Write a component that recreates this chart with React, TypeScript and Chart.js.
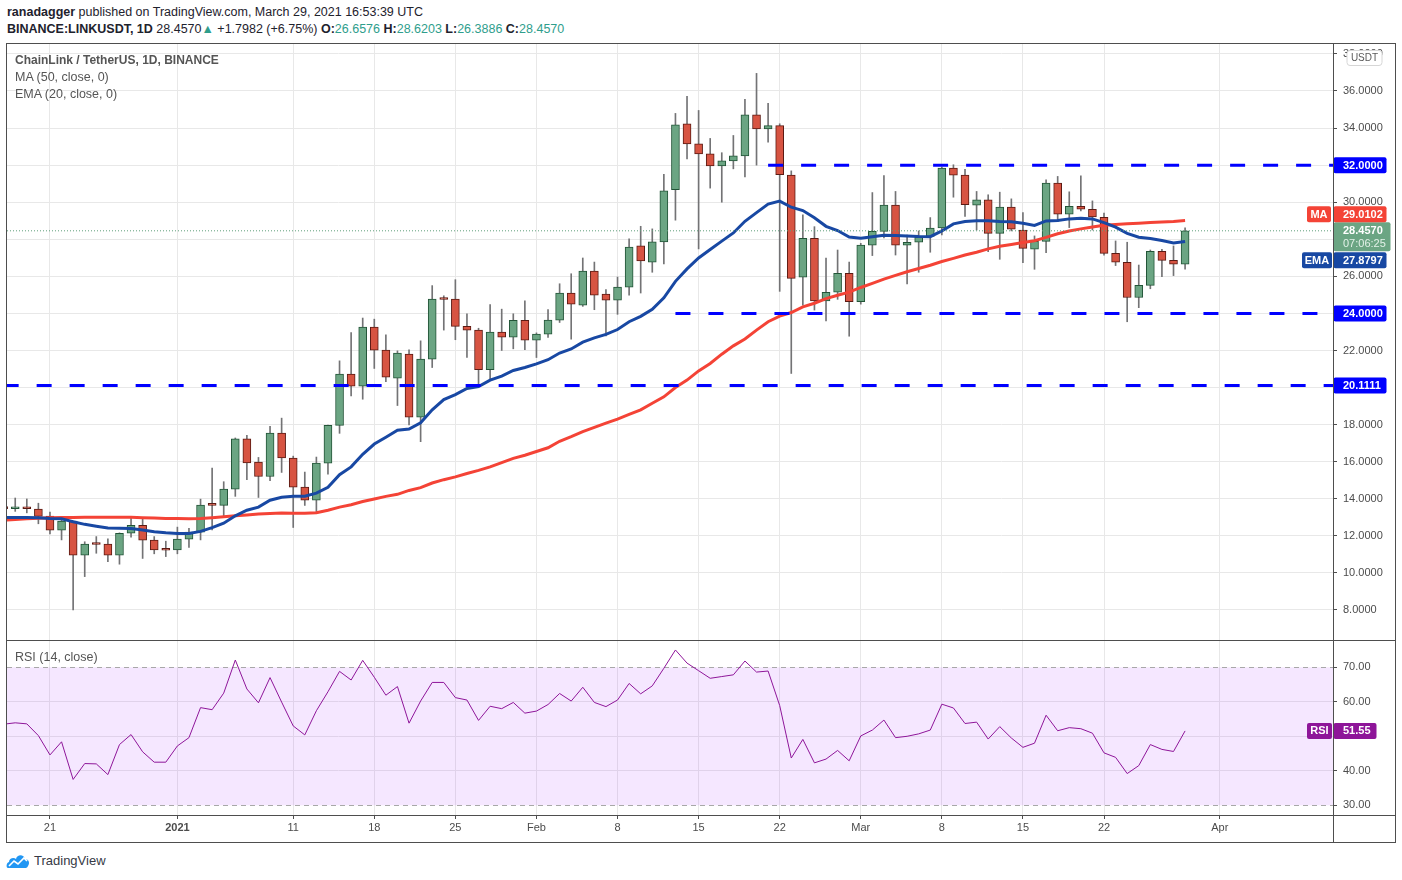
import React, { useEffect, useRef } from "react";
import { Chart, registerables } from "chart.js";

Chart.register(...registerables);

// Day 0 = 2020-12-17, one candle per day through 2021-03-29
const opens = [
  13.52, 13.46, 13.50, 13.44, 13.06, 12.31, 12.79, 10.95, 11.57, 11.55, 10.95, 12.14, 12.56, 11.77, 11.26,
  11.24, 11.82, 12.20, 13.68, 13.64, 14.52, 17.23, 15.98, 15.20, 17.55, 16.20, 14.63, 13.93, 15.92, 17.96,
  20.72, 20.07, 23.26, 22.02, 20.50, 21.80, 18.40, 21.53, 24.80, 24.77, 23.30, 23.10, 20.96, 22.99, 22.72,
  23.62, 22.56, 22.88, 23.64, 25.10, 24.45, 26.29, 25.04, 24.72, 25.42, 27.64, 26.77, 27.86, 30.67, 34.23,
  33.15, 32.61, 31.96, 32.23, 32.50, 34.72, 33.96, 34.13, 31.46, 25.95, 28.05, 24.68, 25.14, 26.16, 24.63,
  27.68, 28.43, 29.84, 27.68, 27.84, 28.16, 28.61, 31.84, 31.46, 29.84, 30.13, 28.32, 29.73, 28.49, 27.46,
  27.89, 31.03, 29.35, 29.78, 29.62, 29.19, 27.24, 26.76, 24.86, 25.51, 27.35, 26.86, 26.6576,
];
const highs = [
  13.80, 14.04, 13.99, 13.76, 13.28, 12.90, 12.80, 11.68, 11.96, 11.84, 12.16, 12.95, 12.95, 11.96, 11.71,
  12.47, 12.41, 13.98, 15.66, 14.92, 17.28, 17.42, 16.23, 17.91, 18.35, 16.30, 15.44, 16.25, 17.98, 21.44,
  22.97, 23.75, 23.69, 22.85, 21.98, 22.04, 22.52, 25.50, 24.95, 25.82, 23.98, 23.20, 24.47, 24.23, 23.98,
  24.68, 22.95, 24.20, 25.60, 26.14, 26.99, 26.77, 25.28, 25.96, 28.02, 28.70, 28.56, 31.50, 34.79, 35.71,
  34.95, 33.44, 32.67, 33.60, 35.55, 36.95, 35.33, 34.23, 31.69, 29.32, 28.68, 26.99, 27.42, 26.77, 27.78,
  30.52, 31.44, 30.58, 28.23, 28.45, 29.17, 31.90, 32.02, 31.78, 30.58, 30.40, 30.54, 30.18, 29.44, 28.18,
  31.21, 31.39, 30.56, 31.42, 30.07, 29.41, 27.91, 27.84, 26.61, 27.42, 27.46, 27.64, 28.6203,
];
const lows = [
  13.30, 13.32, 13.24, 12.65, 12.10, 11.78, 8.00, 9.80, 11.06, 10.61, 10.47, 11.93, 10.78, 11.03, 10.88,
  11.03, 11.37, 11.78, 12.32, 13.05, 14.13, 15.03, 14.07, 14.97, 15.42, 12.45, 13.64, 13.30, 15.33, 17.53,
  19.55, 19.37, 21.03, 20.32, 19.03, 17.98, 17.08, 21.08, 23.10, 22.58, 21.62, 20.14, 20.41, 22.00, 22.09,
  22.04, 21.62, 22.70, 23.51, 22.61, 24.38, 24.20, 22.79, 23.95, 24.99, 25.10, 26.22, 26.67, 29.03, 32.34,
  27.48, 30.76, 30.00, 31.80, 31.37, 32.00, 33.24, 25.19, 20.76, 24.45, 24.18, 23.60, 24.76, 22.77, 24.50,
  27.12, 28.07, 27.15, 25.59, 26.22, 27.30, 28.23, 30.27, 29.23, 28.50, 27.33, 26.92, 28.45, 26.74, 26.38,
  27.28, 28.95, 28.63, 29.53, 28.50, 27.14, 26.58, 23.55, 24.31, 25.33, 25.98, 26.04, 26.3886,
];
const closes = [
  13.47, 13.50, 13.46, 13.05, 12.31, 12.79, 10.95, 11.55, 11.53, 10.95, 12.14, 12.56, 11.77, 11.24, 11.22,
  11.82, 12.20, 13.66, 13.64, 14.52, 17.23, 15.93, 15.20, 17.55, 16.20, 14.63, 13.93, 15.92, 17.96, 20.72,
  20.07, 23.26, 22.02, 20.56, 21.86, 18.40, 21.53, 24.77, 24.75, 23.30, 23.10, 20.96, 22.99, 22.72, 23.62,
  22.56, 22.88, 23.64, 25.10, 24.50, 26.29, 24.99, 24.72, 25.42, 27.58, 26.83, 27.86, 30.61, 34.18, 33.15,
  32.61, 31.96, 32.23, 32.50, 34.72, 33.96, 34.13, 31.48, 25.89, 28.05, 24.68, 25.14, 26.16, 24.63, 27.68,
  28.43, 29.84, 27.68, 27.84, 28.11, 28.61, 31.84, 31.46, 29.87, 30.13, 28.32, 29.73, 28.54, 27.51, 27.89,
  31.03, 29.35, 29.78, 29.62, 29.21, 27.24, 26.76, 24.86, 25.51, 27.35, 26.86, 26.66, 28.457,
];
const ma50 = [
  12.84, 12.88, 12.92, 12.95, 12.97, 12.99, 12.99, 13.00, 13.00, 13.00, 13.00, 13.00, 12.98, 12.96, 12.94,
  12.93, 12.92, 12.94, 12.98, 13.03, 13.08, 13.13, 13.18, 13.21, 13.23, 13.22, 13.22, 13.25, 13.38, 13.55,
  13.68, 13.85, 13.99, 14.13, 14.24, 14.45, 14.60, 14.85, 15.03, 15.18, 15.36, 15.53, 15.72, 15.95, 16.18,
  16.35, 16.55, 16.75, 17.10, 17.35, 17.62, 17.85, 18.08, 18.30, 18.55, 18.80, 19.15, 19.50, 20.00, 20.40,
  20.90, 21.30, 21.80, 22.25, 22.62, 23.10, 23.55, 23.85, 24.05, 24.35, 24.55, 24.80, 24.98, 25.15, 25.40,
  25.62, 25.85, 26.05, 26.25, 26.42, 26.60, 26.80, 26.97, 27.15, 27.30, 27.48, 27.62, 27.72, 27.82, 27.92,
  28.10, 28.30, 28.45, 28.56, 28.66, 28.76, 28.80, 28.84, 28.87, 28.90, 28.93, 28.96, 29.0102,
];
const ema20 = [
  12.99, 12.99, 12.99, 12.98, 12.93, 12.92, 12.76, 12.62, 12.52, 12.42, 12.41, 12.40, 12.32, 12.22, 12.16,
  12.13, 12.13, 12.24, 12.44, 12.68, 13.08, 13.38, 13.55, 13.92, 14.08, 14.13, 14.14, 14.30, 14.62, 15.30,
  15.72, 16.40, 16.95, 17.32, 17.70, 17.76, 18.10, 18.80, 19.35, 19.62, 19.95, 20.05, 20.40, 20.62, 20.92,
  21.08, 21.28, 21.50, 21.86, 22.08, 22.45, 22.68, 22.87, 23.13, 23.55, 23.84, 24.22, 24.84, 25.73, 26.40,
  26.99, 27.45, 27.90, 28.34, 28.97, 29.44, 29.90, 30.06, 29.73, 29.55, 29.16, 28.70, 28.47, 28.12, 28.05,
  28.14, 28.22, 28.20, 28.18, 28.15, 28.14, 28.45, 28.83, 28.96, 29.00, 29.00, 28.96, 28.95, 28.86, 28.75,
  28.99, 29.01, 29.10, 29.14, 29.10, 28.90, 28.65, 28.32, 28.11, 28.04, 27.93, 27.80, 27.8797,
];
const rsi14 = [
  53.5, 53.9, 53.6, 50.2, 44.6, 48.4, 37.5, 42.1, 42.0, 38.9, 47.6, 50.5, 45.5, 42.5, 42.5,
  47.2, 49.6, 58.3, 57.7, 62.5, 72.1, 63.7, 59.7, 67.0, 59.9, 53.0, 50.4, 57.4, 62.9, 68.8,
  66.3, 72.0, 67.1, 61.9, 64.4, 53.8, 60.2, 65.6, 65.6, 61.2, 60.5, 54.6, 58.7, 58.0, 59.8,
  56.7, 57.3, 59.2, 62.4, 60.2, 64.2, 59.8, 58.6, 60.5, 65.3, 62.3, 64.6, 69.7, 75.0, 71.2,
  69.0, 66.8, 67.3, 67.8, 71.8, 68.6, 68.9, 58.9, 43.7, 49.1, 42.3, 43.4, 45.9, 42.9, 50.1,
  51.8, 54.7, 49.6, 50.0, 50.7, 51.8, 59.3, 58.2, 53.7, 54.1, 49.2, 52.8, 49.5, 46.8, 48.0,
  56.1, 51.6, 52.5, 52.2, 50.9, 45.2, 43.9, 39.2, 41.5, 47.6, 46.2, 45.6, 51.55,
];

const tickDays = [4, 15, 25, 32, 39, 46, 53, 60, 67, 74, 81, 88, 95, 105];
const tickLabels = ["21", "2021", "11", "18", "25", "Feb", "8", "15", "22", "Mar", "8", "15", "22", "Apr"];
const priceTicks = [8, 10, 12, 14, 16, 18, 20, 22, 24, 26, 28, 30, 32, 34, 36, 38];
const rsiTicks = [30, 40, 50, 60, 70];
const levelValues = [32, 24, 20.1111];
const levelStartDays = [66, 58, 0];
const rsiBand = [30, 70];
const lastPrice = 28.457;
const lastMA = 29.0102;
const lastEMA = 27.8797;
const lastRSI = 51.55;
const countdown = "07:06:25";

const FONT = '"Liberation Sans", Arial, sans-serif';
const X_MIN = 0.29;
const X_MAX = 114.77;
const GRID = "#e8e8e8";
const TEXT = "#4c4c4c";
const FRAME = "#4e4e4e";
const UP_FILL = "#6ba583";
const UP_LINE = "#225437";
const DN_FILL = "#d75442";
const DN_LINE = "#5b1a13";
const WICK = "#737375";
const MA_COLOR = "#f44336";
const EMA_COLOR = "#1848a3";
const LEVEL_COLOR = "#0000ff";
const RSI_COLOR = "#8e1599";
const AXIS_W = 62;

function xAxis(showLabels: boolean): any {
  return {
    type: "linear",
    min: X_MIN,
    max: X_MAX,
    offset: false,
    afterBuildTicks: (s: any) => {
      s.ticks = tickDays.map((v) => ({ value: v }));
    },
    grid: {
      color: GRID,
      offset: false,
      drawTicks: showLabels,
      tickLength: 4,
      tickColor: FRAME,
    },
    border: { display: false },
    ticks: {
      display: showLabels,
      autoSkip: false,
      maxRotation: 0,
      padding: 2,
      color: TEXT,
      font: (c: any) => ({
        family: FONT,
        size: 11,
        weight: tickLabels[c.index] === "2021" ? "bold" : "normal",
      }),
      callback: (_v: any, i: number) => tickLabels[i],
    },
    afterFit: (s: any) => {
      s.height = showLabels ? 27 : 0;
      s.paddingLeft = 0;
      s.paddingRight = 0;
    },
  };
}

function yAxisFit(s: any) {
  s.width = AXIS_W;
  s.paddingTop = 0;
  s.paddingBottom = 0;
}

function roundBox(ctx: CanvasRenderingContext2D, x: number, y: number, w: number, h: number, r: number, fill: string) {
  ctx.fillStyle = fill;
  ctx.beginPath();
  (ctx as any).roundRect(x, y, w, h, r);
  ctx.fill();
}

function label(ctx: CanvasRenderingContext2D, s: string, x: number, y: number, color: string, align: CanvasTextAlign = "left", bold = true) {
  ctx.font = `${bold ? "bold " : ""}11px ${FONT}`;
  ctx.fillStyle = color;
  ctx.textAlign = align;
  ctx.textBaseline = "middle";
  ctx.fillText(s, x, y);
}

const priceLabelPlugin = {
  id: "priceLabels",
  afterDraw(chart: any) {
    const { ctx, chartArea: a } = chart;
    const y = chart.scales.y;
    const x0 = a.right;
    ctx.save();
    levelValues.forEach((v) => {
      const yc = y.getPixelForValue(v);
      roundBox(ctx, x0 + 0.5, yc - 8, 53, 16, 2, LEVEL_COLOR);
      label(ctx, v.toFixed(4), x0 + 10, yc + 0.5, "#ffffff");
    });
    const yp = y.getPixelForValue(lastPrice);
    const pTop = yp - 8.5;
    const pH = 29;
    roundBox(ctx, x0 + 0.5, pTop, 57, pH, 2, UP_FILL);
    label(ctx, lastPrice.toFixed(4), x0 + 10, yp + 0.5, "#ffffff");
    label(ctx, countdown, x0 + 10, yp + 13.5, "#e3f1e8", "left", false);

    const ym = y.getPixelForValue(lastMA);
    const mTop = Math.min(ym - 8, pTop - 16);
    roundBox(ctx, x0 + 0.5, mTop, 53, 16, 2, MA_COLOR);
    label(ctx, lastMA.toFixed(4), x0 + 10, mTop + 8.5, "#ffffff");
    roundBox(ctx, x0 - 26, mTop, 24, 16, 2, MA_COLOR);
    label(ctx, "MA", x0 - 14, mTop + 8.5, "#ffffff", "center");

    const ye = y.getPixelForValue(lastEMA);
    const eTop = Math.max(ye - 8, pTop + pH + 1);
    roundBox(ctx, x0 + 0.5, eTop, 53, 16, 2, EMA_COLOR);
    label(ctx, lastEMA.toFixed(4), x0 + 10, eTop + 8.5, "#ffffff");
    roundBox(ctx, x0 - 31, eTop, 30, 16, 2, EMA_COLOR);
    label(ctx, "EMA", x0 - 16, eTop + 8.5, "#ffffff", "center");

    // unit badge
    ctx.fillStyle = "#ffffff";
    ctx.strokeStyle = "#d6d6d6";
    ctx.lineWidth = 1;
    ctx.beginPath();
    (ctx as any).roundRect(x0 + 14, a.top + 6.5, 35, 15, 3);
    ctx.fill();
    ctx.stroke();
    ctx.font = `10px ${FONT}`;
    ctx.fillStyle = "#5a5a5a";
    ctx.textAlign = "center";
    ctx.textBaseline = "middle";
    ctx.fillText("USDT", x0 + 31.5, a.top + 14.5);
    ctx.restore();
  },
};

const rsiPlugin = {
  id: "rsiBand",
  beforeDatasetsDraw(chart: any) {
    const { ctx, chartArea: a } = chart;
    const y = chart.scales.y;
    const yTop = y.getPixelForValue(rsiBand[1]);
    const yBot = y.getPixelForValue(rsiBand[0]);
    ctx.save();
    ctx.fillStyle = "rgba(153, 21, 255, 0.1)";
    ctx.fillRect(a.left, yTop, a.right - a.left, yBot - yTop);
    ctx.strokeStyle = "#a8a8a8";
    ctx.lineWidth = 1;
    ctx.setLineDash([5, 4]);
    [yTop, yBot].forEach((yy) => {
      const py = Math.round(yy) + 0.5;
      ctx.beginPath();
      ctx.moveTo(a.left, py);
      ctx.lineTo(a.right, py);
      ctx.stroke();
    });
    ctx.restore();
  },
  afterDraw(chart: any) {
    const { ctx, chartArea: a } = chart;
    const y = chart.scales.y;
    const x0 = a.right;
    const yc = y.getPixelForValue(lastRSI);
    ctx.save();
    roundBox(ctx, x0 - 26, yc - 8, 25, 16, 2, RSI_COLOR);
    label(ctx, "RSI", x0 - 13.5, yc + 0.5, "#ffffff", "center");
    roundBox(ctx, x0 + 0.5, yc - 8, 43, 16, 2, RSI_COLOR);
    label(ctx, lastRSI.toFixed(2), x0 + 10, yc + 0.5, "#ffffff");
    ctx.restore();
  },
};

export default function App() {
  const priceRef = useRef<HTMLCanvasElement>(null);
  const rsiRef = useRef<HTMLCanvasElement>(null);

  useEffect(() => {
    const up = closes.map((c, i) => c >= opens[i]);
    const line = (vals: number[], color: string, width: number, order: number): any => ({
      type: "line",
      data: vals.map((v, i) => ({ x: i, y: v })),
      borderColor: color,
      borderWidth: width,
      pointRadius: 0,
      tension: 0,
      order,
      clip: 0,
    });

    const priceChart = new Chart(priceRef.current as HTMLCanvasElement, {
      type: "bar",
      data: {
        datasets: [
          {
            type: "bar",
            data: lows.map((l, i) => ({ x: i, y: [l, highs[i]] })) as any,
            backgroundColor: WICK,
            barThickness: 1,
            grouped: false,
            order: 6,
            clip: 0,
          } as any,
          {
            type: "bar",
            data: opens.map((o, i) => ({ x: i, y: [o, closes[i]] })) as any,
            backgroundColor: up.map((u) => (u ? UP_FILL : DN_FILL)),
            borderColor: up.map((u) => (u ? UP_LINE : DN_LINE)),
            borderWidth: 1,
            borderSkipped: false,
            barThickness: 8,
            minBarLength: 2,
            grouped: false,
            order: 5,
            clip: 0,
          } as any,
          line(ma50, MA_COLOR, 3, 4),
          line(ema20, EMA_COLOR, 3, 3),
          ...levelValues.map((v, k) => ({
            type: "line",
            data: [
              { x: levelStartDays[k], y: v },
              { x: X_MAX, y: v },
            ],
            borderColor: LEVEL_COLOR,
            borderWidth: 3,
            borderDash: [15, 18],
            borderCapStyle: "butt",
            pointRadius: 0,
            order: 2,
            clip: 0,
          })) as any,
          {
            type: "line",
            data: [
              { x: X_MIN, y: lastPrice },
              { x: X_MAX, y: lastPrice },
            ],
            borderColor: "#5f9e7b",
            borderWidth: 1,
            borderDash: [1, 2],
            pointRadius: 0,
            order: 1,
            clip: 0,
          } as any,
        ],
      },
      options: {
        responsive: false,
        maintainAspectRatio: false,
        animation: false,
        events: [],
        layout: { padding: 0 },
        plugins: { legend: { display: false }, tooltip: { enabled: false } },
        scales: {
          x: xAxis(false),
          y: {
            position: "right",
            min: 6.38,
            max: 38.535,
            afterBuildTicks: (s: any) => {
              s.ticks = priceTicks.map((v) => ({ value: v }));
            },
            grid: { color: GRID, tickLength: 4, tickColor: FRAME },
            border: { display: false },
            ticks: {
              color: TEXT,
              padding: 6,
              font: { family: FONT, size: 11 },
              callback: (v: any) => Number(v).toFixed(4),
            },
            afterFit: yAxisFit,
          } as any,
        },
      },
      plugins: [priceLabelPlugin],
    });

    const rsiChart = new Chart(rsiRef.current as HTMLCanvasElement, {
      type: "line",
      data: {
        datasets: [
          {
            data: rsi14.map((v, i) => ({ x: i, y: v })),
            borderColor: RSI_COLOR,
            borderWidth: 1,
            pointRadius: 0,
            tension: 0,
            clip: 0,
          } as any,
        ],
      },
      options: {
        responsive: false,
        maintainAspectRatio: false,
        animation: false,
        events: [],
        layout: { padding: 0 },
        plugins: { legend: { display: false }, tooltip: { enabled: false } },
        scales: {
          x: xAxis(true),
          y: {
            position: "right",
            min: 27.2,
            max: 77.6,
            afterBuildTicks: (s: any) => {
              s.ticks = rsiTicks.map((v) => ({ value: v }));
            },
            grid: {
              color: (c: any) => (c.tick && rsiBand.includes(c.tick.value) ? "rgba(0,0,0,0)" : GRID),
              tickLength: 4,
              tickColor: FRAME,
            },
            border: { display: false },
            ticks: {
              color: TEXT,
              padding: 6,
              font: { family: FONT, size: 11 },
              callback: (v: any) => Number(v).toFixed(2),
            },
            afterFit: yAxisFit,
          } as any,
        },
      },
      plugins: [rsiPlugin],
    });

    return () => {
      priceChart.destroy();
      rsiChart.destroy();
    };
  }, []);

  const abs = (l: number, t: number, w: number, h: number, extra: any = {}): any => ({
    position: "absolute",
    left: l,
    top: t,
    width: w,
    height: h,
    ...extra,
  });
  const teal = "#2f9e8c";

  return (
    <div
      style={{
        position: "fixed",
        left: 0,
        top: 0,
        width: 1402,
        height: 880,
        background: "#ffffff",
        fontFamily: FONT,
        overflow: "hidden",
      }}
    >
      <div style={{ position: "absolute", left: 7, top: 4, fontSize: 12.5, lineHeight: "16px", color: "#1e222d", whiteSpace: "nowrap" }}>
        <b>ranadagger</b> published on TradingView.com, March 29, 2021 16:53:39 UTC
      </div>
      <div style={{ position: "absolute", left: 7, top: 21, fontSize: 12.5, lineHeight: "16px", color: "#1e222d", whiteSpace: "nowrap" }}>
        <b>BINANCE:LINKUSDT, 1D</b> 28.4570<span style={{ color: teal }}>▲</span> +1.7982 (+6.75%) <b>O:</b>
        <span style={{ color: teal }}>26.6576</span> <b>H:</b>
        <span style={{ color: teal }}>28.6203</span> <b>L:</b>
        <span style={{ color: teal }}>26.3886</span> <b>C:</b>
        <span style={{ color: teal }}>28.4570</span>
      </div>

      <canvas ref={priceRef} width={1388} height={596} style={abs(7, 44, 1388, 596)} />
      <canvas ref={rsiRef} width={1388} height={201} style={abs(7, 641, 1388, 201)} />

      {/* frame lines */}
      <div style={abs(6, 43, 1390, 800, { border: `1px solid ${FRAME}`, boxSizing: "border-box", pointerEvents: "none" })} />
      <div style={abs(7, 640, 1388, 1, { background: FRAME })} />
      <div style={abs(7, 815, 1388, 1, { background: FRAME })} />
      <div style={abs(1333, 44, 1, 798, { background: FRAME })} />

      <div style={{ position: "absolute", left: 15, top: 52, fontSize: 12, lineHeight: "16px", color: "#555", fontWeight: "bold", whiteSpace: "nowrap" }}>
        ChainLink / TetherUS, 1D, BINANCE
      </div>
      <div style={{ position: "absolute", left: 15, top: 69, fontSize: 12.5, lineHeight: "16px", color: "#555", whiteSpace: "nowrap" }}>
        MA (50, close, 0)
      </div>
      <div style={{ position: "absolute", left: 15, top: 86, fontSize: 12.5, lineHeight: "16px", color: "#555", whiteSpace: "nowrap" }}>
        EMA (20, close, 0)
      </div>
      <div style={{ position: "absolute", left: 15, top: 649, fontSize: 12.5, lineHeight: "16px", color: "#555", whiteSpace: "nowrap" }}>
        RSI (14, close)
      </div>

      <div style={{ position: "absolute", left: 6, top: 851, display: "flex", alignItems: "center", gap: 4 }}>
        <svg width="24" height="18" viewBox="0 0 24 18">
          <path d="M2 17 C0 17 0 12 3 11 C3 7 8 6 10 8 C11 3 18 3 19 8 C23 8 24 12 22 15 C21 17 20 17 19 17 Z" fill="#2196f3" />
          <path d="M3 15 L8 10 L12 13 L18 7 L21 10" stroke="#ffffff" strokeWidth="1.6" fill="none" />
        </svg>
        <span style={{ fontSize: 13, color: "#363a45" }}>TradingView</span>
      </div>
    </div>
  );
}
